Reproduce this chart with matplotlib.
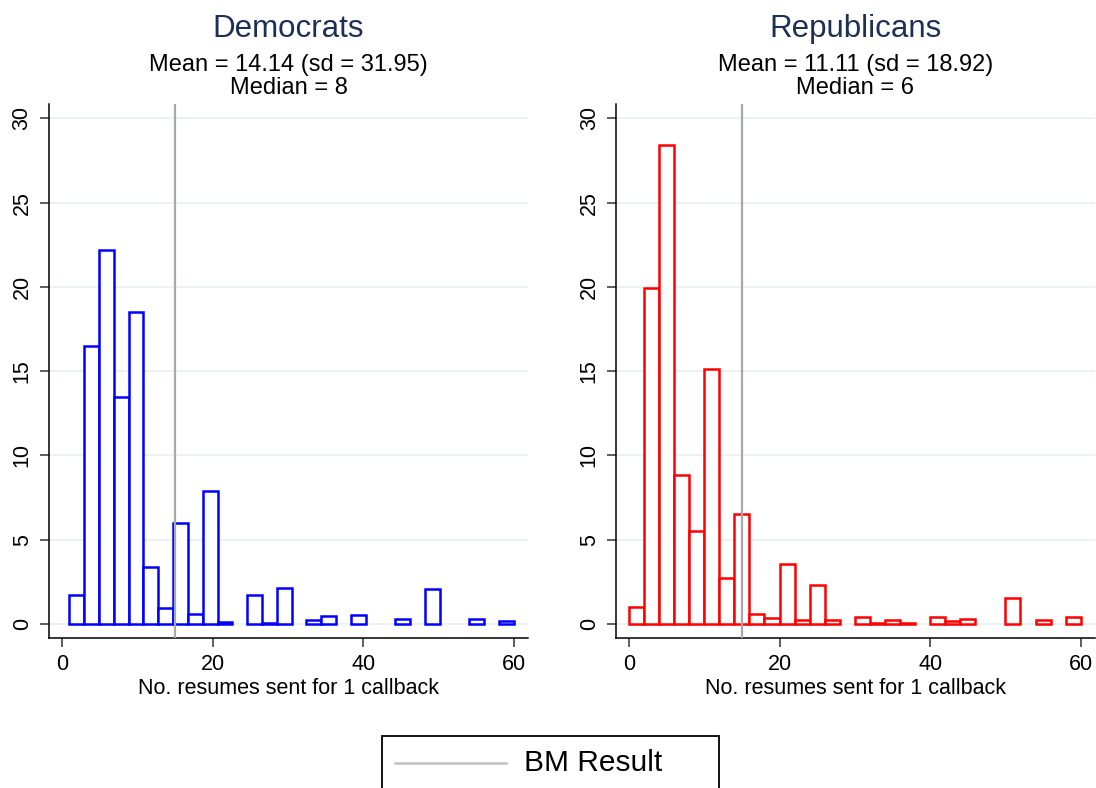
import numpy as np
import matplotlib
matplotlib.use('Agg')
import matplotlib.pyplot as plt
from matplotlib.lines import Line2D
from matplotlib.patches import Rectangle

plt.rcParams['font.family'] = ['Liberation Sans', 'DejaVu Sans']

# ==== DATA ==== #
# percent of firms per bin (30 bins each)
dem_range = (1, 60)
dem_pct = [1.72, 16.47, 22.2, 13.45, 18.52, 3.39, 0.97, 6.0, 0.59, 7.9,
           0.12, 0.0, 1.72, 0.06, 2.11, 0.0, 0.25, 0.45, 0.0, 0.53,
           0.0, 0.0, 0.27, 0.0, 2.1, 0.0, 0.0, 0.27, 0.0, 0.15]

rep_range = (0, 60)
rep_pct = [1.02, 19.93, 28.42, 8.86, 5.50, 15.11, 2.74, 6.54, 0.60, 0.33,
           3.57, 0.22, 2.29, 0.24, 0.0, 0.40, 0.05, 0.24, 0.07, 0.0,
           0.40, 0.15, 0.32, 0.0, 0.0, 1.55, 0.0, 0.24, 0.0, 0.40]

panel_titles = ['Democrats', 'Republicans']
panel_stats = [('Mean = 14.14 (sd = 31.95)', 'Median = 8'),
               ('Mean = 11.11 (sd = 18.92)', 'Median = 6')]
bm_result = 15
x_ticks = [0, 20, 40, 60]
y_ticks = [0, 5, 10, 15, 20, 25, 30]
x_label = 'No. resumes sent for 1 callback'
legend_label = 'BM Result'

title_color = '#1e2f57'
grid_color = '#e9eff1'
bm_color = '#a8a8a8'


def draw_panel(ax, pct, rng, color, title, stats):
    '''Draws one histogram panel in the Stata look'''
    pct = np.asarray(pct)
    edges = np.linspace(rng[0], rng[1], len(pct) + 1)
    keep = pct > 0  # empty bins are not drawn at all
    for y in y_ticks:
        ax.axhline(y, color=grid_color, lw=1.2, zorder=0)
    ax.bar(edges[:-1][keep], pct[keep], width=np.diff(edges)[keep], align='edge',
           facecolor='white', edgecolor=color, linewidth=1.8, zorder=2)
    ax.axvline(bm_result, color=bm_color, lw=1.6, zorder=3)

    ax.set_xlim(-1.75, 61.9)
    ax.set_ylim(-0.85, 30.85)
    ax.set_xticks(x_ticks)
    ax.set_yticks(y_ticks)
    ax.set_yticklabels([str(t) for t in y_ticks], rotation=90, va='center')
    ax.tick_params(axis='both', direction='out', length=6.5, width=1.1,
                   color='#333333', labelsize=15.5, pad=5)
    for side in ['top', 'right']:
        ax.spines[side].set_visible(False)
    for side in ['left', 'bottom']:
        ax.spines[side].set_linewidth(1.1)
    ax.set_xlabel(x_label, fontsize=15.5, labelpad=2)

    ax.annotate(title, xy=(0.5, 1), xycoords='axes fraction',
                xytext=(0, 48), textcoords='offset points',
                ha='center', va='baseline', fontsize=22.5, color=title_color)
    ax.annotate(stats[0], xy=(0.5, 1), xycoords='axes fraction',
                xytext=(0, 24), textcoords='offset points',
                ha='center', va='baseline', fontsize=17)
    ax.annotate(stats[1], xy=(0.5, 1), xycoords='axes fraction',
                xytext=(0, 7.2), textcoords='offset points',
                ha='center', va='baseline', fontsize=17)


fig = plt.figure(figsize=(10.96, 7.88), dpi=100)
ax1 = fig.add_axes([0.0444, 0.19, 0.4376, 0.678])
ax2 = fig.add_axes([0.5618, 0.19, 0.4373, 0.678])

draw_panel(ax1, dem_pct, dem_range, '#0000ff', panel_titles[0], panel_stats[0])
draw_panel(ax2, rep_pct, rep_range, '#ff0000', panel_titles[1], panel_stats[1])

# legend box at the bottom (runs off the edge like the original)
W, H = 1096, 788
fig.patches.append(Rectangle((382 / W, -0.01), (719 - 382) / W, (788 - 736) / H + 0.01,
                             transform=fig.transFigure, facecolor='white',
                             edgecolor='black', linewidth=1.3))
fig.lines.append(Line2D([395 / W, 506 / W], [1 - 763 / H, 1 - 763 / H],
                        transform=fig.transFigure, color='#c0c0c0', lw=1.8))
fig.text(524 / W, 1 - 763 / H, legend_label, fontsize=21.5, va='center', ha='left')

fig.savefig('out.png', dpi=100)
